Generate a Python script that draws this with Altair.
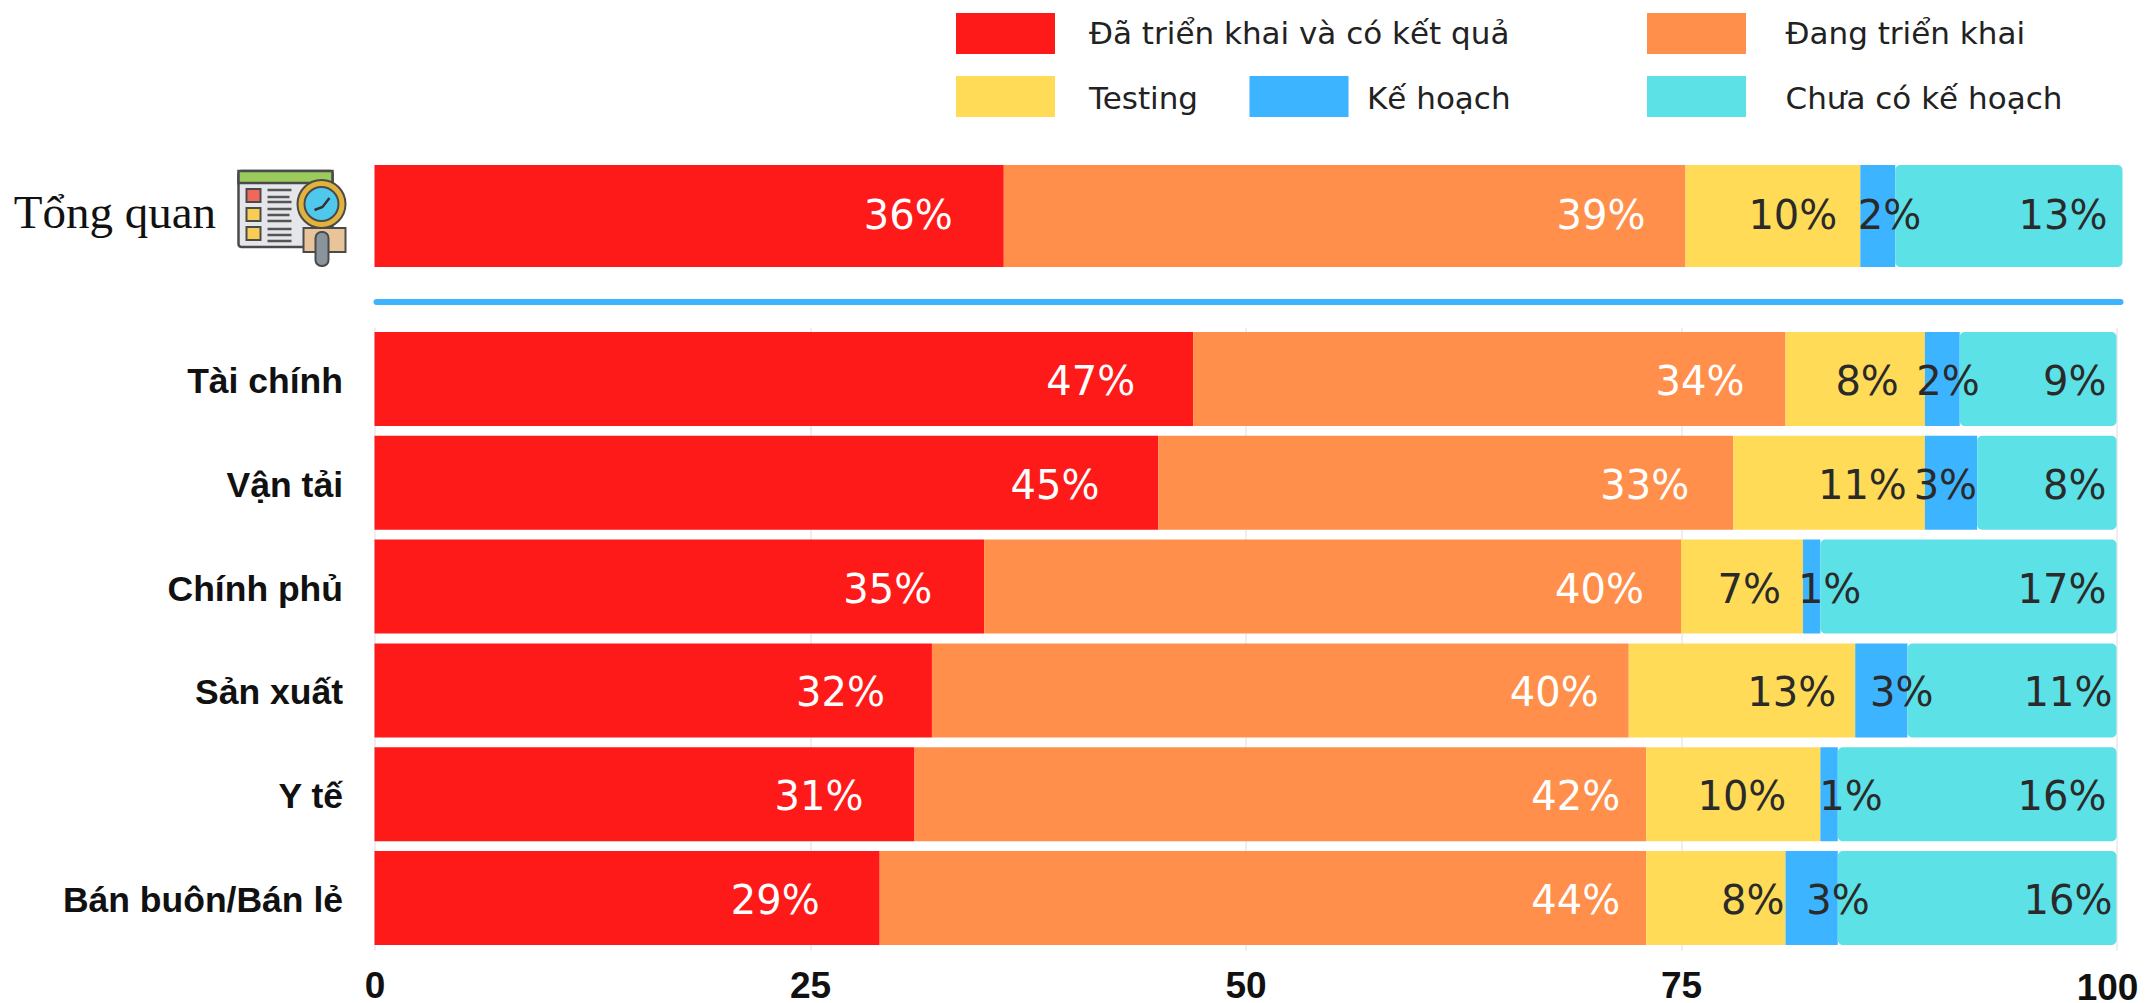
import base64
import altair as alt
import pandas as pd

overview = "Tổng quan"
categories = ["Tài chính", "Vận tải", "Chính phủ", "Sản xuất", "Y tế", "Bán buôn/Bán lẻ"]
series = ["Đã triển khai và có kết quả", "Đang triển khai", "Testing", "Kế hoạch", "Chưa có kế hoạch"]
colors = ["#FF1A1A", "#FF8F4A", "#FFDB58", "#3DB4FF", "#5CE1E6"]
overview_values = [36, 39, 10, 2, 13]
values = [
    [47, 34, 8, 2, 9],
    [45, 33, 11, 3, 8],
    [35, 40, 7, 1, 17],
    [32, 40, 13, 3, 12],
    [31, 42, 10, 1, 16],
    [29, 44, 8, 3, 16],
]
overview_labels = ["36%", "39%", "10%", "2%", "13%"]
labels = [
    ["47%", "34%", "8%", "2%", "9%"],
    ["45%", "33%", "11%", "3%", "8%"],
    ["35%", "40%", "7%", "1%", "17%"],
    ["32%", "40%", "13%", "3%", "11%"],
    ["31%", "42%", "10%", "1%", "16%"],
    ["29%", "44%", "8%", "3%", "16%"],
]
overview_gaps = [51, 40, 23, -26, 15]
gaps = [
    [58, 41, 26, -20, 10],
    [59, 44, 18, 0, 10],
    [52, 37, 22, -41, 10],
    [47, 30, 19, -26, 4],
    [51, 26, 34, -45, 10],
    [60, 26, 1, -32, 4],
]

FONT = "DejaVu Sans"
FS_VAL = 40
FS_LEG = 31
PX_TOP = 1748 / 100
PX_BOT = 1742 / 100


def table(names, vals, labs, gp, px):
    rows = []
    for name, v, l, g in zip(names, vals, labs, gp):
        end = 0
        for i, s in enumerate(series):
            rows.append({
                "cat": name, "series": s, "start": end, "end": end + v[i],
                "label": l[i], "lx": end + v[i] - g[i] / px,
                "fg": "#FFFFFF" if i < 2 else "#2A2A2A", "last": i == 4,
            })
            end += v[i]
    return pd.DataFrame(rows)


color_scale = alt.Scale(domain=series, range=colors)
x_scale = alt.Scale(domain=[0, 100], nice=False)


def bars(df, y, x, dy):
    base = alt.Chart(df)
    enc = dict(y=y, x=x, x2="end:Q",
               color=alt.Color("series:N", scale=color_scale, legend=None))
    a = base.transform_filter("!datum.last").mark_bar().encode(**enc)
    b = base.transform_filter("datum.last").mark_bar(cornerRadiusEnd=5).encode(**enc)
    t = base.mark_text(align="right", baseline="middle", dy=dy, font=FONT, fontSize=FS_VAL).encode(
        y=y,
        x=alt.X("lx:Q", scale=x_scale),
        text="label:N",
        color=alt.Color("fg:N", scale=None),
    )
    return a + b + t


# ---- legend panel (hand placed, as in the source picture)
leg_rows = [
    (series[0], colors[0], 581.5, 5, 714.5, 27),
    (series[1], colors[1], 1272.5, 5, 1411, 27),
    (series[2], colors[2], 581.5, 68, 714.5, 92),
    (series[3], colors[3], 875, 68, 992.5, 92),
    (series[4], colors[4], 1272.5, 68, 1411, 92),
]
leg_layers = []
for name, col, sx, sy, tx, ty in leg_rows:
    leg_layers.append(
        alt.Chart(pd.DataFrame({"n": [name]})).mark_rect(color=col).encode(
            x=alt.value(sx), x2=alt.value(sx + 99), y=alt.value(sy), y2=alt.value(sy + 41))
    )
    leg_layers.append(
        alt.Chart(pd.DataFrame({"n": [name]}))
        .mark_text(align="left", baseline="middle", font=FONT, fontSize=FS_LEG, color="#222222")
        .encode(x=alt.value(tx), y=alt.value(ty), text="n:N")
    )
legend_panel = alt.layer(*leg_layers).properties(width=1742, height=152)

# ---- overview icon
svg = """<svg xmlns="http://www.w3.org/2000/svg" width="140" height="115" viewBox="0 0 140 115">
<rect x="17" y="11" width="94" height="76" rx="3" fill="#E4E6EA" stroke="#4A4A4A" stroke-width="2.5"/>
<rect x="17" y="11" width="94" height="12" fill="#9BCB5C" stroke="#4A4A4A" stroke-width="2.5"/>
<rect x="25" y="29" width="14" height="13" fill="#F0685A" stroke="#4A4A4A" stroke-width="2"/>
<rect x="25" y="48" width="14" height="13" fill="#F7CE55" stroke="#4A4A4A" stroke-width="2"/>
<rect x="25" y="67" width="14" height="13" fill="#F7CE55" stroke="#4A4A4A" stroke-width="2"/>
<path d="M46 30H70M46 37H68M46 42H70M46 49H70M46 55H68M46 61H70M46 69H70M46 75H70M46 81H70" stroke="#555" stroke-width="2.5"/>
<rect x="82" y="68" width="42" height="24" fill="#E8C49A" stroke="#4A4A4A" stroke-width="2"/>
<rect x="94" y="72" width="13" height="34" rx="6" fill="#8A949C" stroke="#4A4A4A" stroke-width="2"/>
<circle cx="100" cy="44" r="24" fill="#E2B33C" stroke="#4A4A4A" stroke-width="2"/>
<circle cx="100" cy="44" r="17" fill="#4FC8EE" stroke="#4A4A4A" stroke-width="2"/>
<path d="M93 50L101 47L108 38" fill="none" stroke="#333" stroke-width="2.5"/>
</svg>"""
icon_url = "data:image/svg+xml;base64," + base64.b64encode(svg.encode()).decode()

# ---- overview panel
top_df = table([overview], [overview_values], [overview_labels], [overview_gaps], PX_TOP)
top_x = alt.X("start:Q", scale=x_scale, axis=None)
top_y = alt.Y("cat:N", title=None, sort=[overview],
              scale=alt.Scale(paddingInner=0, paddingOuter=0),
              axis=alt.Axis(
    domain=False, ticks=False, labelFont="Liberation Serif", labelFontSize=47,
    labelColor="#111111", labelPadding=159, labelOffset=-2, labelLimit=400,
    minExtent=366, maxExtent=366))
icon = alt.Chart(pd.DataFrame({"n": [overview]})).mark_image(
    url=icon_url, width=140, height=115, align="left", baseline="top"
).encode(x=alt.value(-153), y=alt.value(-5))
top_panel = (bars(top_df, top_y, top_x, 1) + icon).properties(width=1748, height=102)

# ---- separator
sep_panel = alt.Chart(pd.DataFrame({"n": [overview]})).mark_rule(
    color="#3DB4FF", size=6, strokeCap="round"
).encode(x=alt.value(2), x2=alt.value(1746), y=alt.value(27)).properties(width=1748, height=52)

# ---- sector panel
bot_df = table(categories, values, labels, gaps, PX_BOT)
bot_axis = alt.Axis(
    values=[0, 25, 50, 75, 100], domain=False, ticks=False, grid=True, gridColor="#DDDDDD",
    labelFont="Liberation Sans", labelFontWeight="bold", labelFontSize=37, labelColor="#111111",
    labelPadding=18, labelFlush=False, format="d",
    labelExpr="datum.value == 100 ? '' : datum.label")
bot_x = alt.X("start:Q", scale=x_scale, title=None, axis=bot_axis)
bot_y = alt.Y("cat:N", title=None, sort=categories,
              scale=alt.Scale(paddingInner=0.094, paddingOuter=0.047),
              axis=alt.Axis(domain=False, ticks=False, grid=False, labelFont="Liberation Sans",
                            labelFontWeight="bold", labelFontSize=35.5, labelColor="#111111",
                            labelPadding=32, labelOffset=3, labelLimit=400,
                            minExtent=366, maxExtent=366))
last_tick = alt.Chart(pd.DataFrame({"v": [100], "t": ["100"]})).mark_text(
    align="center", baseline="top", dx=-9, font="Liberation Sans", fontWeight="bold",
    fontSize=37, color="#111111"
).encode(x=alt.X("v:Q", scale=x_scale, title=None, axis=bot_axis), y=alt.value(644), text="t:N")
bot_panel = (bars(bot_df, bot_y, bot_x, 4) + last_tick).properties(width=1742, height=623)

chart = (
    alt.vconcat(legend_panel, top_panel, sep_panel, bot_panel, spacing=0)
    .properties(padding={"left": 0.5, "right": 4, "top": 0, "bottom": 0})
    .configure_view(stroke=None)
    .configure_concat(spacing=0)
)
chart.save("out.html", embed_options={"renderer": "svg", "actions": False})
